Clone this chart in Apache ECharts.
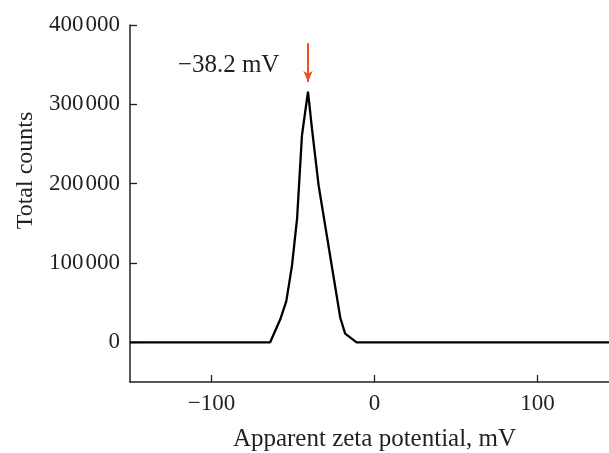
<!DOCTYPE html>
<html>
<head>
<meta charset="utf-8">
<script src="https://cdn.jsdelivr.net/npm/echarts@6/dist/echarts.min.js"></script>
<style>
  html, body { margin: 0; padding: 0; background: #fff; }
  #zeta { width: 609px; height: 453px; }
</style>
</head>
<body>
<div id="zeta"></div>
<script>
// zeta potential (mV) and total counts
var potential = [-150, -64, -57.8, -54.1, -50.6, -47.5, -44.5, -40.8, -38.4, -34.3, -21, -18, -11, 150];
var counts    = [0, 0, 29000, 52000, 97000, 156000, 261000, 316000, 270000, 198000, 31000, 11000, 0, 0];
var peakLabel = '\u221238.2 mV';
var peakAt = -40.8;

var font = 'Liberation Serif';
var ink = '#231f20';

var chart = echarts.init(document.getElementById('zeta'));
var points = potential.map(function (x, i) { return [x, counts[i]]; });

var option = {
  animation: false,
  grid: { left: 130, top: 25, width: 489, bottom: 71, containLabel: false, outerBoundsMode: 'none' },
  xAxis: {
    type: 'value',
    min: -150,
    max: 150,
    splitNumber: 3,
    name: 'Apparent zeta potential, mV',
    nameLocation: 'middle',
    nameGap: 45,
    nameTextStyle: { fontFamily: font, fontSize: 25, color: ink },
    axisLine: { onZero: false, lineStyle: { color: ink, width: 1.5 } },
    axisTick: { inside: true, length: 7, lineStyle: { color: ink, width: 1.3 } },
    axisLabel: {
      showMinLabel: false, showMaxLabel: false,
      fontFamily: font, fontSize: 23, color: ink, margin: 10,
      formatter: function (v) { return v < 0 ? '\u2212' + Math.abs(v) : String(v); }
    },
    splitLine: { show: false }
  },
  yAxis: {
    type: 'value',
    min: -50000,
    max: 400000,
    splitNumber: 5,
    name: 'Total counts',
    nameLocation: 'middle',
    nameGap: 92,
    nameTextStyle: { fontFamily: font, fontSize: 24, color: ink, padding: [0, 0, 0, 66] },
    axisLine: { show: true, onZero: false, lineStyle: { color: ink, width: 1.5 } },
    axisTick: { show: true, inside: true, length: 7, lineStyle: { color: ink, width: 1.3 } },
    axisLabel: {
      showMinLabel: false,
      fontFamily: font, fontSize: 23, color: ink, margin: 10,
      formatter: function (v) {
        if (v < 0) return '';
        var s = String(v);
        return s.length > 3 ? s.slice(0, s.length - 3) + '\u200a' + s.slice(-3) : s;
      }
    },
    splitLine: { show: false }
  },
  series: [{
    type: 'line',
    data: points,
    showSymbol: false,
    lineStyle: { color: '#000', width: 2.3 },
    markLine: {
      silent: true,
      symbol: ['none', 'arrow'],
      symbolSize: [7, 11],
      label: { show: false },
      lineStyle: { color: '#f04e23', width: 2, type: 'solid' },
      data: [[{ coord: [peakAt, 377000] }, { coord: [peakAt, 328000] }]]
    },
    markPoint: {
      silent: true,
      symbol: 'circle',
      symbolSize: 0,
      label: {
        show: true, position: 'inside', formatter: peakLabel,
        fontFamily: font, fontSize: 25, color: ink
      },
      data: [{ coord: [-89.5, 349000] }]
    }
  }]
};

chart.setOption(option);
</script>
</body>
</html>
